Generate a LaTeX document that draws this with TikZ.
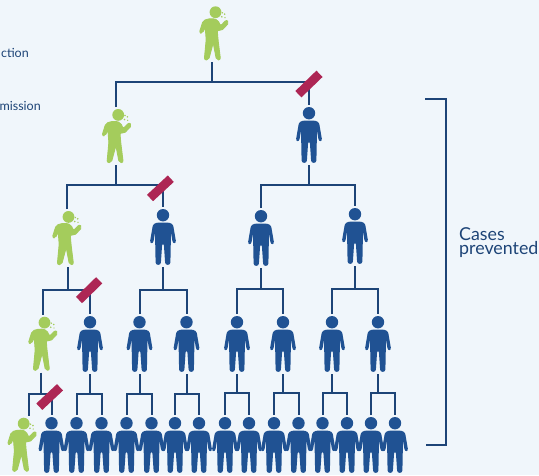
\documentclass[tikz,border=0pt]{standalone}
\usepackage{fontspec}
\setmainfont{Lato}
\definecolor{bg}{RGB}{240,246,251}
\definecolor{navy}{RGB}{29,68,119}
\definecolor{pblue}{RGB}{32,82,147}
\definecolor{pgreen}{RGB}{164,204,92}
\definecolor{strike}{RGB}{173,38,84}
\tikzset{
  conn/.style={draw=navy,line width=2pt,line cap=butt,line join=miter},
  anchorbox/.style={inner sep=0pt,outer sep=0pt,minimum width=26pt,minimum height=60pt},
  blockbar/.style={draw=strike,line width=8.8pt},
  sidetext/.style={text=navy,inner sep=0pt,font=\fontsize{12.5}{14}\selectfont},
}
% #1 name, #2 stem x, #3 top y
\newcommand{\bluefig}[3]{%
  \node[anchorbox] (#1) at (#2,#3+28) {};
  \coordinate (#1-stem) at (#1.south);
  \begin{scope}[shift={(#2,#3)}]
    \fill[pblue] (0,6.2) circle (6.2);
    \fill[pblue] (0,13.5) .. controls (5,13.5) and (9,13.3) .. (10.3,17)
      -- (12.8,31.5) .. controls (13.3,34.8) and (9.9,35) .. (9.4,32)
      -- (8,23.5) -- (7.4,53.5) .. controls (7.2,56.7) and (2.3,56.7) .. (2.1,53.5)
      -- (0.9,36) .. controls (0.7,34.8) and (-0.7,34.8) .. (-0.9,36)
      -- (-2.1,53.5) .. controls (-2.3,56.7) and (-7.2,56.7) .. (-7.4,53.5)
      -- (-8,23.5) -- (-9.4,32) .. controls (-9.9,35) and (-13.3,34.8) .. (-12.8,31.5)
      -- (-10.3,17) .. controls (-9,13.3) and (-5,13.5) .. (0,13.5) -- cycle;
  \end{scope}}
% #1 name, #2 drop x, #3 top y, #4 head x, #5 stem x
\newcommand{\greenfig}[5]{%
  \node[anchorbox] (#1) at (#2,#3+28) {};
  \node[anchorbox] (#1-s) at (#5,#3+26) {};
  \coordinate (#1-stem) at (#1-s.south);
  \begin{scope}[shift={(#4,#3)}]
    \fill[pgreen] (0,5.9) circle (5.9);
    \filldraw[pgreen,line width=0.9pt,line join=round,rounded corners=2pt] (-4.3,12) -- (-12.3,14.2) -- (-16.2,26.6) -- (-13,27) -- (-10.3,20.5) -- (-9.3,33.3) -- (-11.2,53.6) -- (-6.9,53.6) -- (-2.3,36.5) -- (1,53.6) -- (5,53.6) -- (2.5,33.3) -- (1.7,23.4) -- (5.7,24.6) -- (13.6,16.3) -- (11,13.4) -- (5,19.7) -- (2.3,13.6) -- cycle;
    \fill[pgreen] (6.3,10.5) circle (0.9) (9.2,7.8) circle (0.9) (6.8,6.5) circle (0.8) (9.5,11.3) circle (0.7);
  \end{scope}}
% #1 parent, #2 left, #3 right, #4 bar y
\newcommand{\fork}[4]{%
  \draw[conn] (#1-stem) -- (#1-stem |- 0,#4);
  \draw[conn] (#2.north) -- (#2.north |- 0,#4) -- (#3.north |- 0,#4) -- (#3.north);}
\begin{document}
\begin{tikzpicture}[x=1pt,y=-1pt]
\useasboundingbox (0,0) rectangle (539,475);
\fill[bg] (0,0) rectangle (539,475);

\greenfig{r}{212}{6.3}{215.5}{212}
\greenfig{a}{116}{109}{118.2}{116}
\bluefig{b}{309}{107}
\greenfig{aa}{67}{211}{68.5}{68}
\bluefig{ab}{163}{209}
\bluefig{ba}{261}{210}
\bluefig{bb}{355}{208}
\greenfig{aaa}{42.7}{316.7}{44.5}{41}
\bluefig{aab}{90}{316}
\bluefig{aba}{139.5}{316}
\bluefig{abb}{186.5}{316}
\bluefig{baa}{237}{316}
\bluefig{bab}{283}{316}
\bluefig{bba}{332}{316}
\bluefig{bbb}{378}{316}
\greenfig{l1}{28.7}{417.7}{23.7}{28.7}
\bluefig{l2}{51.5}{417}
\bluefig{l3}{76.5}{417}
\bluefig{l4}{101.5}{417}
\bluefig{l5}{126.5}{417}
\bluefig{l6}{151.5}{417}
\bluefig{l7}{175}{417}
\bluefig{l8}{199}{417}
\bluefig{l9}{225}{417}
\bluefig{l10}{249}{417}
\bluefig{l11}{274}{417}
\bluefig{l12}{298.5}{417}
\bluefig{l13}{322.5}{417}
\bluefig{l14}{347}{417}
\bluefig{l15}{371}{417}
\bluefig{l16}{395}{417}

\fork{r}{a}{b}{82}
\fork{a}{aa}{ab}{185}
\fork{b}{ba}{bb}{185}
\fork{aa}{aaa}{aab}{290}
\fork{ab}{aba}{abb}{290}
\fork{ba}{baa}{bab}{289}
\fork{bb}{bba}{bbb}{289}
\fork{aaa}{l1}{l2}{394}
\fork{aab}{l3}{l4}{394}
\fork{aba}{l5}{l6}{394}
\fork{abb}{l7}{l8}{394}
\fork{baa}{l9}{l10}{393}
\fork{bab}{l11}{l12}{393}
\fork{bba}{l13}{l14}{393}
\fork{bbb}{l15}{l16}{393}

\coordinate (s1a) at (298.4,94.2); \coordinate (s1b) at (319.5,73.8);
\coordinate (s2a) at (150,198); \coordinate (s2b) at (170.8,178.7);
\coordinate (s3a) at (79,300); \coordinate (s3b) at (99.2,280.3);
\coordinate (s4a) at (39.3,406.7); \coordinate (s4b) at (60,387.3);
\draw[blockbar] (s1a) -- (s1b);
\draw[blockbar] (s2a) -- (s2b);
\draw[blockbar] (s3a) -- (s3b);
\draw[blockbar] (s4a) -- (s4b);

\coordinate (bt) at (425,98.5); \coordinate (bm1) at (446,98.5);
\coordinate (bm2) at (446,445); \coordinate (bb2) at (426,445);
\draw[conn] (bt) -- (bm1) -- (bm2) -- (bb2);

\node[sidetext,anchor=east] (t1) at (29,53) {ction};
\node[sidetext,anchor=east] (t2) at (41,106) {mission};
\node[text=navy,inner sep=0pt,anchor=west,align=left,font=\fontsize{17.8}{14}\selectfont] (t3) at (459,243) {Cases\\prevented};
\end{tikzpicture}
\end{document}
